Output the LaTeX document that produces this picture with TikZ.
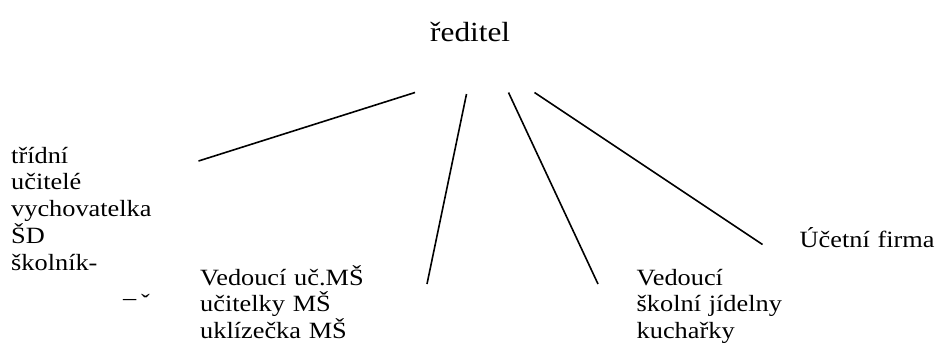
\documentclass[tikz,border=0pt]{standalone}
\usepackage{fontspec}
\setmainfont[FakeStretch=1.13]{Liberation Serif}
\begin{document}
\begin{tikzpicture}[x=1pt,y=-1pt,
  lbl/.style={inner sep=0pt,anchor=base west,text width=240pt,align=left,
    font=\fontsize{23.3}{26.9}\selectfont},
  title/.style={inner sep=0pt,anchor=base west,font=\fontsize{27.7}{31}\selectfont},
  link/.style={line width=1.6pt}]
\useasboundingbox (0,0) rectangle (935,349);
\node[title] (reditel) at (430,41.7) {ředitel};
\node[lbl] (left) at (11,163) {třídní\\učitelé\\vychovatelka\\ŠD\\školník-};
\node[lbl,text width=30pt] (mark) at (123,310) {\raisebox{0.18em}{–}\hspace{0.2em}ˇ};
\node[lbl] (ms) at (200,285) {Vedoucí uč.MŠ\\učitelky MŠ\\uklízečka MŠ};
\node[lbl] (sj) at (636.5,285) {Vedoucí\\školní jídelny\\kuchařky};
\node[lbl] (ucetni) at (799.5,247) {Účetní firma};
\coordinate (t1) at (415,92.5);  \coordinate (b1) at (198.5,161);
\coordinate (t2) at (466.5,94);  \coordinate (b2) at (427,284);
\coordinate (t3) at (508.5,92.5); \coordinate (b3) at (598,284);
\coordinate (t4) at (534.5,92.5); \coordinate (b4) at (762.5,244.5);
\draw[link] (t1) -- (b1);
\draw[link] (t2) -- (b2);
\draw[link] (t3) -- (b3);
\draw[link] (t4) -- (b4);
\end{tikzpicture}
\end{document}
